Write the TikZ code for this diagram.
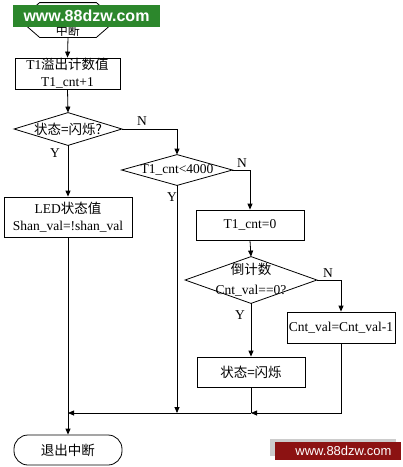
\documentclass[tikz,border=0pt]{standalone}
\usepackage{fontspec}
\setmainfont{Liberation Serif}
\newfontfamily\zh{Noto Sans CJK SC}
\newfontfamily\wmfont{Liberation Sans}
\usetikzlibrary{arrows.meta}
\definecolor{bannergreen}{RGB}{44,135,44}
\definecolor{bannerred}{RGB}{140,18,18}
\begin{document}
\begin{tikzpicture}[x=1pt,y=-1pt, line width=0.8pt,
  >={Triangle[length=6pt,width=5pt]},
  every node/.style={font=\fontsize{13.5}{17}\selectfont, inner sep=0pt, align=center},
  procbox/.style={draw, minimum width=#1, minimum height=31},
  procbox/.default=106,
  decision/.style 2 args={minimum width=#1, minimum height=#2},
  lbl/.style={font=\fontsize{13.5}{14}\selectfont}]
\useasboundingbox (0,0) rectangle (403,467);
\fill[white] (0,0) rectangle (403,467);

% start terminal
\node[minimum width=96, minimum height=34] (start) at (68,20) {};
\draw ([xshift=20pt]start.north west) -- ([xshift=-20pt]start.north east) -- (start.east)
  -- ([xshift=-20pt]start.south east) -- ([xshift=20pt]start.south west) -- (start.west) -- cycle;
\node[font=\fontsize{12}{12}\selectfont] (startlbl) at (68,30.5) {\zh 中断};

% process boxes
\node[procbox=105] (box1) at (67.5,73.5) {T1\zh{溢出计数值}\\T1\_cnt+1};
\node[procbox=128, minimum height=40] (led) at (68,217) {LED\zh{状态值}\\Shan\_val=!shan\_val};
\node[procbox=108, minimum height=30] (cnt0) at (250,225) {T1\_cnt=0};
\node[procbox=108] (dec) at (341,327.5) {Cnt\_val=Cnt\_val-1};
\node[procbox=108, minimum height=30] (flash) at (251,372) {\zh{状态}=\zh{闪烁}};
\node[draw, rounded corners=14pt, minimum width=108, minimum height=30] (exitn) at (68,450) {\zh 退出中断};

% decisions
\node[decision={107}{32}] (d1) at (68,129) {\zh{状态}=\zh{闪烁}?};
\draw (d1.west) -- (d1.north) -- (d1.east) -- (d1.south) -- cycle;
\node[decision={110}{30}] (d2) at (177,170) {T1\_cnt<4000};
\draw (d2.west) -- (d2.north) -- (d2.east) -- (d2.south) -- cycle;
\node[decision={131}{46}, font=\fontsize{13.5}{20}\selectfont] (d3) at (251,280) {\zh{倒计数}\\Cnt\_val==0?};
\draw (d3.west) -- (d3.north) -- (d3.east) -- (d3.south) -- cycle;

% merge points
\coordinate (mL) at (68,413);
\coordinate (mM) at (177,413);
\coordinate (mR) at (251,413);

% connectors
\draw[->] (start.south) -- (box1.north);
\draw[->] (box1.south) -- (d1.north);
\draw[->] (d1.south) -- (led.north);
\draw[->] (d1.east) -| (d2.north);
\draw[->] (d2.east) -| (cnt0.north);
\draw[->] (cnt0.south) -- (d3.north);
\draw[->] (d3.east) -| (dec.north);
\draw[->] (d3.south) -- (flash.north);
\draw[->] (d2.south) -- (mM);
\draw[->] (dec.south) |- (mR);
\draw (flash.south) -- (mR);
\draw[->] (mR) -- (mL);
\draw[->] (led.south) -- (exitn.north);

% branch labels
\node[lbl] (n1) at (142,121) {N};
\node[lbl] (y1) at (55,153) {Y};
\node[lbl] (n2) at (242,163) {N};
\node[lbl] (y2) at (172,197) {Y};
\node[lbl] (n3) at (328,273) {N};
\node[lbl] (y3) at (240,315) {Y};

% watermarks
\fill[bannergreen] (13,5) rectangle (160,27);
\node[text=white, font=\wmfont\bfseries\fontsize{16}{16}\selectfont] (wm1) at (86.5,15.5) {www.88dzw.com};
\fill[black!20] (270,439) rectangle (396,456);
\fill[bannerred] (275,442) rectangle (401,460);
\node[text=white, font=\wmfont\fontsize{13}{13}\selectfont] (wm2) at (343.5,451) {www.88dzw.com};
\end{tikzpicture}
\end{document}
